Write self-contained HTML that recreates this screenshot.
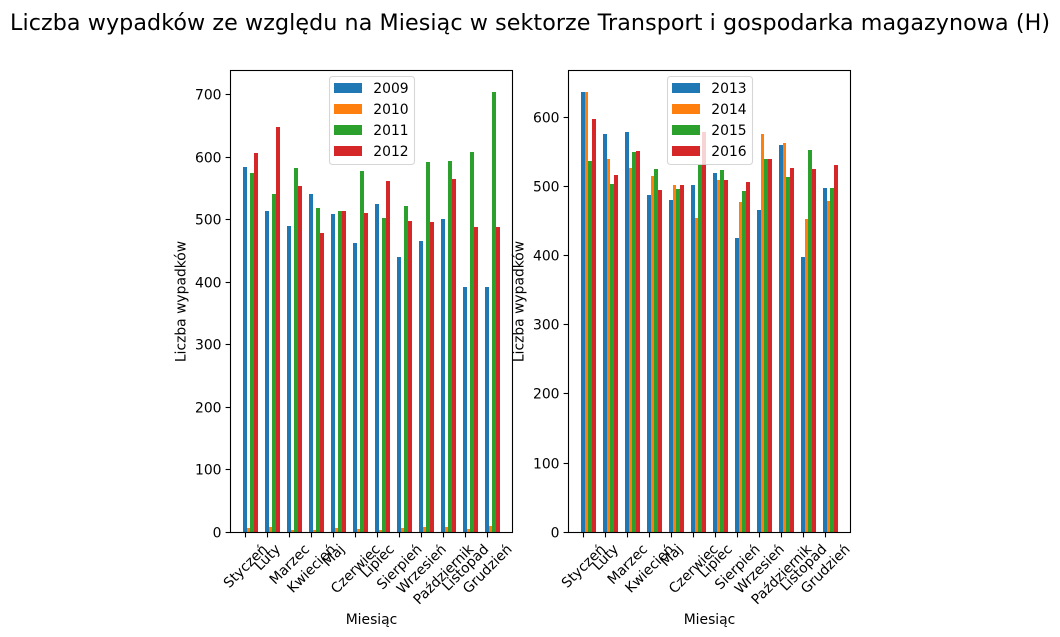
<!DOCTYPE html>
<html lang="pl">
<head>
<meta charset="utf-8">
<title>Liczba wypadków</title>
<style>
html,body{margin:0;padding:0;background:#fff;}
svg{display:block;}
text{font-family:"DejaVu Sans","Liberation Sans",sans-serif;fill:#000;}
</style>
</head>
<body>
<svg id="chart" width="1060" height="637" viewBox="0 0 1060 637" xmlns="http://www.w3.org/2000/svg">
<text x="530" y="30" text-anchor="middle" font-size="22.2" textLength="1040" lengthAdjust="spacing">Liczba wypadków ze względu na Miesiąc w sektorze Transport i gospodarka magazynowa (H)</text>
</svg>
<script>
const months = ["Styczeń","Luty","Marzec","Kwiecień","Maj","Czerwiec","Lipiec","Sierpień","Wrzesień","Październik","Listopad","Grudzień"];
const colors = ["#1f77b4","#ff7f0e","#2ca02c","#d62728"];
const yTicksLeft = [0,100,200,300,400,500,600,700];
const yTicksRight = [0,100,200,300,400,500,600];

const yearsLeft = ["2009","2010","2011","2012"];
const values2009 = [584,515,491,542,509,463,526,440,467,501,392,392];
const values2010 = [7,8,4,4,7,5,4,7,8,8,5,10];
const values2011 = [575,541,583,519,515,579,503,523,592,595,608,704];
const values2012 = [607,648,555,479,514,511,563,498,496,565,488,488];

const yearsRight = ["2013","2014","2015","2016"];
const values2013 = [636,576,579,488,480,502,519,425,466,560,398,498];
const values2014 = [636,540,527,515,502,454,509,477,576,563,453,479];
const values2015 = [537,504,550,525,496,531,524,493,540,514,553,498];
const values2016 = [597,516,551,495,502,579,509,506,540,527,525,531];

const NS = "http://www.w3.org/2000/svg";
const root = document.getElementById("chart");
const barWidth = 0.163;

function make(parent, tag, attrs, content) {
  const el = document.createElementNS(NS, tag);
  for (const k in attrs) el.setAttribute(k, attrs[k]);
  if (content !== undefined) el.textContent = content;
  parent.appendChild(el);
  return el;
}

function drawPanel(left, panelName, years, series, yTicks) {
  const width = 282, top = 70.5, bottom = 532.5;
  const g = make(root, "g", {});
  
  

  const span = months.length - 1 + 4 * barWidth;
  const unit = width / (1.1 * span);
  const x0 = left + 0.05 * span * unit + (barWidth / 2) * unit;
  const xScale = v => x0 + v * unit;
  const maxV = Math.max(...series.map(s => Math.max(...s)));
  const yMax = maxV * 1.05;
  const yScale = v => bottom - (v / yMax) * (bottom - top);

  // bars
  series.forEach((vals, s) => {
    vals.forEach((v, i) => {
      const c = i + s * barWidth;
      const xa = Math.round(xScale(c - barWidth / 2) - 0.1);
      const xb = Math.round(xScale(c + barWidth / 2) - 0.1);
      const yt = Math.round(yScale(v) - 0.1);
      const bar = make(g, "rect", {x: xa, y: yt, width: xb - xa, height: 533 - yt, fill: colors[s], "shape-rendering": "crispEdges"});
      
      
    });
  });

  // frame
  const frame = make(g, "rect", {x: left, y: top, width: width, height: bottom - top, fill: "none", stroke: "#000", "stroke-width": 1.1});
  
  

  // y ticks
  yTicks.forEach(t => {
    const y = Math.round(yScale(t) - 0.7) + 0.5;
    const tick = make(g, "line", {x1: left - 4.9, x2: left, y1: y, y2: y, stroke: "#000", "stroke-width": 1.1});
    
    
    const lab = make(g, "text", {x: left - 9, y: y + 5, "text-anchor": "end", "font-size": 13.89}, String(t));
    
    
  });

  // x ticks and rotated labels
  months.forEach((m, i) => {
    const x = Math.round(xScale(i) - 0.5) + 0.5;
    const tick = make(g, "line", {x1: x, x2: x, y1: bottom, y2: bottom + 4.9, stroke: "#000", "stroke-width": 1.1});
    
    
    const lab = make(g, "text", {"text-anchor": "middle", "font-size": 13.89}, m);
    
    
    const w = lab.getComputedTextLength();
    const h = 14;
    const half = (w + h) * Math.SQRT1_2 / 2;
    const cy = bottom + 9 + half;
    lab.setAttribute("transform", "translate(" + xScale(i) + "," + cy + ") rotate(-45) translate(0,5)");
  });

  // axis titles
  const xt = make(g, "text", {x: left + width / 2, y: 624, "text-anchor": "middle", "font-size": 13.89}, "Miesiąc");
  
  
  const yt = make(g, "text", {"text-anchor": "middle", "font-size": 13.89, transform: "translate(" + (left - 45) + "," + ((top + bottom) / 2) + ") rotate(-90)"}, "Liczba wypadków");
  
  

  // legend
  const lg = make(g, "g", {});
  
  
  const lx = left + 99;
  const box = make(lg, "rect", {x: lx, y: 76.5, width: 85, height: 88, rx: 3, ry: 3, fill: "#fff", "fill-opacity": 0.8, stroke: "#ccc", "stroke-opacity": 0.8, "stroke-width": 1.1});
  
  
  years.forEach((yr, s) => {
    const y = 83 + s * 21;
    const sw = make(lg, "rect", {x: Math.round(lx + 4), y: y, width: 28, height: 10, fill: colors[s], "shape-rendering": "crispEdges"});
    
    
    const tx = make(lg, "text", {x: lx + 43.8, y: y + 10, "font-size": 13.89}, yr);
    
    
  });
}

drawPanel(230.5, "chart-2009-2012", yearsLeft, [values2009, values2010, values2011, values2012], yTicksLeft);
drawPanel(568.5, "chart-2013-2016", yearsRight, [values2013, values2014, values2015, values2016], yTicksRight);
</script>
</body>
</html>
